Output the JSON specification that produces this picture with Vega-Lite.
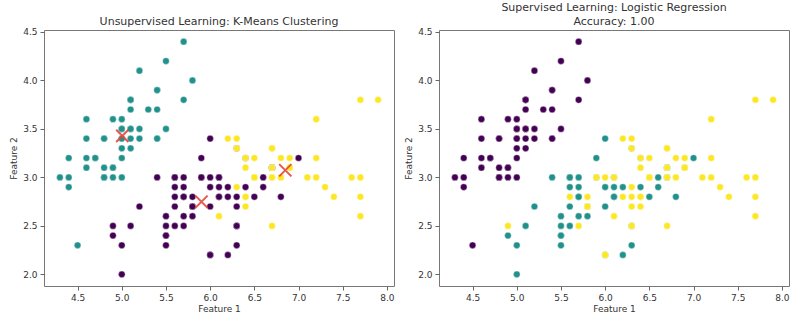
{
  "$schema": "https://vega.github.io/schema/vega-lite/v6.json",
  "padding": {"left": 9, "top": 1, "right": 10, "bottom": 5},
  "bounds": "flush",
  "spacing": 45,
  "datasets": {
    "iris": [
      {"f1":5.1,"f2":3.5,"label":0,"cluster":1},{"f1":4.9,"f2":3.0,"label":0,"cluster":1},{"f1":4.7,"f2":3.2,"label":0,"cluster":1},{"f1":4.6,"f2":3.1,"label":0,"cluster":1},{"f1":5.0,"f2":3.6,"label":0,"cluster":1},
      {"f1":5.4,"f2":3.9,"label":0,"cluster":1},{"f1":4.6,"f2":3.4,"label":0,"cluster":1},{"f1":5.0,"f2":3.4,"label":0,"cluster":1},{"f1":4.4,"f2":2.9,"label":0,"cluster":1},{"f1":4.9,"f2":3.1,"label":0,"cluster":1},
      {"f1":5.4,"f2":3.7,"label":0,"cluster":1},{"f1":4.8,"f2":3.4,"label":0,"cluster":1},{"f1":4.8,"f2":3.0,"label":0,"cluster":1},{"f1":4.3,"f2":3.0,"label":0,"cluster":1},{"f1":5.8,"f2":4.0,"label":0,"cluster":1},
      {"f1":5.7,"f2":4.4,"label":0,"cluster":1},{"f1":5.4,"f2":3.9,"label":0,"cluster":1},{"f1":5.1,"f2":3.5,"label":0,"cluster":1},{"f1":5.7,"f2":3.8,"label":0,"cluster":1},{"f1":5.1,"f2":3.8,"label":0,"cluster":1},
      {"f1":5.4,"f2":3.4,"label":0,"cluster":1},{"f1":5.1,"f2":3.7,"label":0,"cluster":1},{"f1":4.6,"f2":3.6,"label":0,"cluster":1},{"f1":5.1,"f2":3.3,"label":0,"cluster":1},{"f1":4.8,"f2":3.4,"label":0,"cluster":1},
      {"f1":5.0,"f2":3.0,"label":0,"cluster":1},{"f1":5.0,"f2":3.4,"label":0,"cluster":1},{"f1":5.2,"f2":3.5,"label":0,"cluster":1},{"f1":5.2,"f2":3.4,"label":0,"cluster":1},{"f1":4.7,"f2":3.2,"label":0,"cluster":1},
      {"f1":4.8,"f2":3.1,"label":0,"cluster":1},{"f1":5.4,"f2":3.4,"label":0,"cluster":1},{"f1":5.2,"f2":4.1,"label":0,"cluster":1},{"f1":5.5,"f2":4.2,"label":0,"cluster":1},{"f1":4.9,"f2":3.1,"label":0,"cluster":1},
      {"f1":5.0,"f2":3.2,"label":0,"cluster":1},{"f1":5.5,"f2":3.5,"label":0,"cluster":1},{"f1":4.9,"f2":3.6,"label":0,"cluster":1},{"f1":4.4,"f2":3.0,"label":0,"cluster":1},{"f1":5.1,"f2":3.4,"label":0,"cluster":1},
      {"f1":5.0,"f2":3.5,"label":0,"cluster":1},{"f1":4.5,"f2":2.3,"label":0,"cluster":1},{"f1":4.4,"f2":3.2,"label":0,"cluster":1},{"f1":5.0,"f2":3.5,"label":0,"cluster":1},{"f1":5.1,"f2":3.8,"label":0,"cluster":1},
      {"f1":4.8,"f2":3.0,"label":0,"cluster":1},{"f1":5.1,"f2":3.8,"label":0,"cluster":1},{"f1":4.6,"f2":3.2,"label":0,"cluster":1},{"f1":5.3,"f2":3.7,"label":0,"cluster":1},{"f1":5.0,"f2":3.3,"label":0,"cluster":1},
      {"f1":7.0,"f2":3.2,"label":1,"cluster":0},{"f1":6.4,"f2":3.2,"label":1,"cluster":0},{"f1":6.9,"f2":3.1,"label":1,"cluster":2},{"f1":5.5,"f2":2.3,"label":1,"cluster":0},{"f1":6.5,"f2":2.8,"label":1,"cluster":0},
      {"f1":5.7,"f2":2.8,"label":1,"cluster":0},{"f1":6.3,"f2":3.3,"label":1,"cluster":0},{"f1":4.9,"f2":2.4,"label":1,"cluster":0},{"f1":6.6,"f2":2.9,"label":1,"cluster":0},{"f1":5.2,"f2":2.7,"label":1,"cluster":0},
      {"f1":5.0,"f2":2.0,"label":1,"cluster":0},{"f1":5.9,"f2":3.0,"label":1,"cluster":0},{"f1":6.0,"f2":2.2,"label":1,"cluster":0},{"f1":6.1,"f2":2.9,"label":1,"cluster":0},{"f1":5.6,"f2":2.9,"label":1,"cluster":0},
      {"f1":6.7,"f2":3.1,"label":1,"cluster":0},{"f1":5.6,"f2":3.0,"label":1,"cluster":0},{"f1":5.8,"f2":2.7,"label":1,"cluster":0},{"f1":6.2,"f2":2.2,"label":1,"cluster":0},{"f1":5.6,"f2":2.5,"label":1,"cluster":0},
      {"f1":5.9,"f2":3.2,"label":1,"cluster":0},{"f1":6.1,"f2":2.8,"label":1,"cluster":0},{"f1":6.3,"f2":2.5,"label":1,"cluster":0},{"f1":6.1,"f2":2.8,"label":1,"cluster":0},{"f1":6.4,"f2":2.9,"label":1,"cluster":0},
      {"f1":6.6,"f2":3.0,"label":1,"cluster":0},{"f1":6.8,"f2":2.8,"label":1,"cluster":0},{"f1":6.7,"f2":3.0,"label":1,"cluster":2},{"f1":6.0,"f2":2.9,"label":1,"cluster":0},{"f1":5.7,"f2":2.6,"label":1,"cluster":0},
      {"f1":5.5,"f2":2.4,"label":1,"cluster":0},{"f1":5.5,"f2":2.4,"label":1,"cluster":0},{"f1":5.8,"f2":2.7,"label":1,"cluster":0},{"f1":6.0,"f2":2.7,"label":1,"cluster":0},{"f1":5.4,"f2":3.0,"label":1,"cluster":0},
      {"f1":6.0,"f2":3.4,"label":1,"cluster":0},{"f1":6.7,"f2":3.1,"label":1,"cluster":0},{"f1":6.3,"f2":2.3,"label":1,"cluster":0},{"f1":5.6,"f2":3.0,"label":1,"cluster":0},{"f1":5.5,"f2":2.5,"label":1,"cluster":0},
      {"f1":5.5,"f2":2.6,"label":1,"cluster":0},{"f1":6.1,"f2":3.0,"label":1,"cluster":0},{"f1":5.8,"f2":2.6,"label":1,"cluster":0},{"f1":5.0,"f2":2.3,"label":1,"cluster":0},{"f1":5.6,"f2":2.7,"label":1,"cluster":0},
      {"f1":5.7,"f2":3.0,"label":1,"cluster":0},{"f1":5.7,"f2":2.9,"label":1,"cluster":0},{"f1":6.2,"f2":2.9,"label":1,"cluster":0},{"f1":5.1,"f2":2.5,"label":1,"cluster":0},{"f1":5.7,"f2":2.8,"label":1,"cluster":0},
      {"f1":6.3,"f2":3.3,"label":2,"cluster":2},{"f1":5.8,"f2":2.7,"label":2,"cluster":0},{"f1":7.1,"f2":3.0,"label":2,"cluster":2},{"f1":6.3,"f2":2.9,"label":2,"cluster":2},{"f1":6.5,"f2":3.0,"label":2,"cluster":2},
      {"f1":7.6,"f2":3.0,"label":2,"cluster":2},{"f1":4.9,"f2":2.5,"label":2,"cluster":0},{"f1":7.3,"f2":2.9,"label":2,"cluster":2},{"f1":6.7,"f2":2.5,"label":2,"cluster":2},{"f1":7.2,"f2":3.6,"label":2,"cluster":2},
      {"f1":6.5,"f2":3.2,"label":2,"cluster":2},{"f1":6.4,"f2":2.7,"label":2,"cluster":2},{"f1":6.8,"f2":3.0,"label":2,"cluster":2},{"f1":5.7,"f2":2.5,"label":2,"cluster":0},{"f1":5.8,"f2":2.8,"label":2,"cluster":0},
      {"f1":6.4,"f2":3.2,"label":2,"cluster":2},{"f1":6.5,"f2":3.0,"label":2,"cluster":2},{"f1":7.7,"f2":3.8,"label":2,"cluster":2},{"f1":7.7,"f2":2.6,"label":2,"cluster":2},{"f1":6.0,"f2":2.2,"label":2,"cluster":0},
      {"f1":6.9,"f2":3.2,"label":2,"cluster":2},{"f1":5.6,"f2":2.8,"label":2,"cluster":0},{"f1":7.7,"f2":2.8,"label":2,"cluster":2},{"f1":6.3,"f2":2.7,"label":2,"cluster":0},{"f1":6.7,"f2":3.3,"label":2,"cluster":2},
      {"f1":7.2,"f2":3.2,"label":2,"cluster":2},{"f1":6.2,"f2":2.8,"label":2,"cluster":0},{"f1":6.1,"f2":3.0,"label":2,"cluster":0},{"f1":6.4,"f2":2.8,"label":2,"cluster":2},{"f1":7.2,"f2":3.0,"label":2,"cluster":2},
      {"f1":7.4,"f2":2.8,"label":2,"cluster":2},{"f1":7.9,"f2":3.8,"label":2,"cluster":2},{"f1":6.4,"f2":2.8,"label":2,"cluster":2},{"f1":6.3,"f2":2.8,"label":2,"cluster":0},{"f1":6.1,"f2":2.6,"label":2,"cluster":2},
      {"f1":7.7,"f2":3.0,"label":2,"cluster":2},{"f1":6.3,"f2":3.4,"label":2,"cluster":2},{"f1":6.4,"f2":3.1,"label":2,"cluster":2},{"f1":6.0,"f2":3.0,"label":2,"cluster":0},{"f1":6.9,"f2":3.1,"label":2,"cluster":2},
      {"f1":6.7,"f2":3.1,"label":2,"cluster":2},{"f1":6.9,"f2":3.1,"label":2,"cluster":2},{"f1":5.8,"f2":2.7,"label":2,"cluster":0},{"f1":6.8,"f2":3.2,"label":2,"cluster":2},{"f1":6.7,"f2":3.3,"label":2,"cluster":2},
      {"f1":6.7,"f2":3.0,"label":2,"cluster":2},{"f1":6.3,"f2":2.5,"label":2,"cluster":0},{"f1":6.5,"f2":3.0,"label":2,"cluster":2},{"f1":6.2,"f2":3.4,"label":2,"cluster":2},{"f1":5.9,"f2":3.0,"label":2,"cluster":0}
    ],
    "centroids": [
      {"f1":5.9016,"f2":2.7484},
      {"f1":5.006,"f2":3.428},
      {"f1":6.85,"f2":3.0737}
    ]
  },
  "hconcat": [
    {
      "width": 350,
      "height": 256,
      "title": {"text": "Unsupervised Learning: K-Means Clustering"},
      "layer": [
        {
          "data": {"name": "iris"},
          "mark": {"type": "point", "filled": true, "opacity": 1, "size": 45, "stroke": "white", "strokeWidth": 0.4},
          "encoding": {
            "x": {"field": "f1", "type": "quantitative", "scale": {"domain": [4.12, 8.08], "nice": false, "zero": false},
                  "axis": {"values": [4.5, 5.0, 5.5, 6.0, 6.5, 7.0, 7.5, 8.0], "format": ".1f", "title": "Feature 1"}},
            "y": {"field": "f2", "type": "quantitative", "scale": {"domain": [1.88, 4.52], "nice": false, "zero": false},
                  "axis": {"values": [2.0, 2.5, 3.0, 3.5, 4.0, 4.5], "format": ".1f", "title": "Feature 2"}},
            "color": {"field": "cluster", "type": "nominal", "scale": {"domain": [0, 1, 2], "range": ["#440154", "#21918c", "#fde725"]}, "legend": null}
          }
        },
        {
          "data": {"name": "centroids"},
          "mark": {"type": "point", "shape": "M-1,-1L1,1M-1,1L1,-1", "filled": false, "size": 150, "stroke": "#e5463b", "strokeWidth": 2, "opacity": 0.9},
          "encoding": {
            "x": {"field": "f1", "type": "quantitative"},
            "y": {"field": "f2", "type": "quantitative"}
          }
        }
      ]
    },
    {
      "width": 350,
      "height": 256,
      "title": {"text": ["Supervised Learning: Logistic Regression", "Accuracy: 1.00"]},
      "data": {"name": "iris"},
      "mark": {"type": "point", "filled": true, "opacity": 1, "size": 45, "stroke": "white", "strokeWidth": 0.4},
      "encoding": {
        "x": {"field": "f1", "type": "quantitative", "scale": {"domain": [4.12, 8.08], "nice": false, "zero": false},
              "axis": {"values": [4.5, 5.0, 5.5, 6.0, 6.5, 7.0, 7.5, 8.0], "format": ".1f", "title": "Feature 1"}},
        "y": {"field": "f2", "type": "quantitative", "scale": {"domain": [1.88, 4.52], "nice": false, "zero": false},
              "axis": {"values": [2.0, 2.5, 3.0, 3.5, 4.0, 4.5], "format": ".1f", "title": "Feature 2"}},
        "color": {"field": "label", "type": "nominal", "scale": {"domain": [0, 1, 2], "range": ["#440154", "#21918c", "#fde725"]}, "legend": null}
      }
    }
  ],
  "resolve": {"scale": {"color": "independent"}},
  "config": {
    "font": "DejaVu Sans",
    "background": "white",
    "view": {"stroke": "#777", "strokeWidth": 1},
    "axis": {"grid": false, "domain": false, "tickColor": "#666", "tickSize": 4, "labelPadding": 3, "labelFontSize": 9, "labelColor": "#333", "titleFontSize": 9, "titleFontWeight": "normal", "titleColor": "#333", "titlePadding": 4, "labelFlush": false},
    "axisX": {"titlePadding": 2},
    "title": {"fontSize": 11, "fontWeight": "normal", "color": "#333", "offset": 1, "lineHeight": 14, "anchor": "middle"}
  }
}
